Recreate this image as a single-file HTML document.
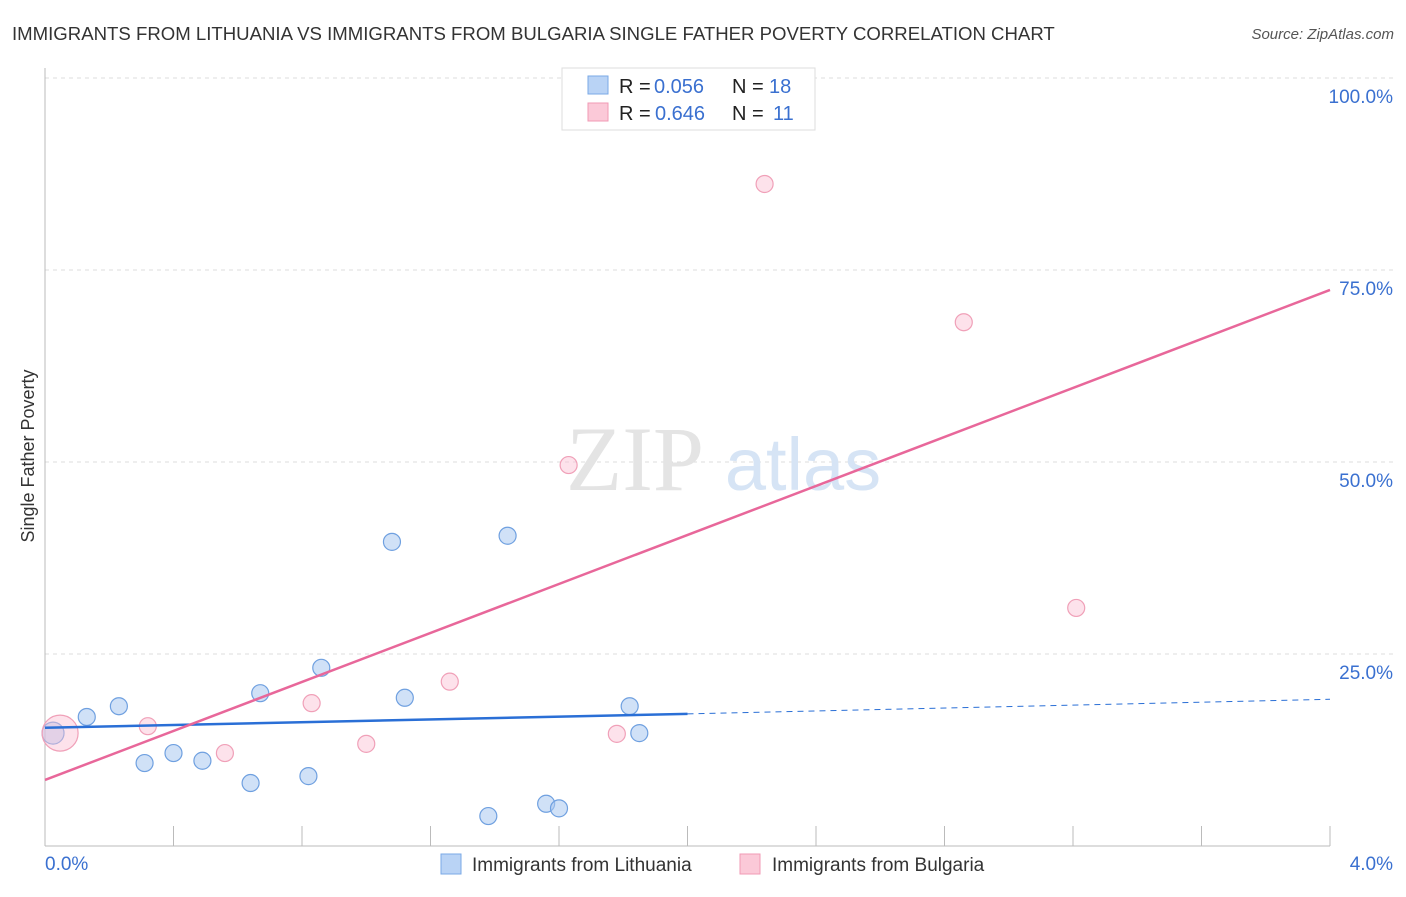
<!DOCTYPE html>
<html><head><meta charset="utf-8"><style>
body{margin:0;background:#fff;font-family:"Liberation Sans",sans-serif}
</style></head><body>
<svg width="1406" height="892" xmlns="http://www.w3.org/2000/svg" font-family="Liberation Sans, sans-serif">
<text x="12" y="40" font-size="18.6" fill="#333">IMMIGRANTS FROM LITHUANIA VS IMMIGRANTS FROM BULGARIA SINGLE FATHER POVERTY CORRELATION CHART</text>
<text x="1394" y="39" font-size="15" fill="#555" font-style="italic" text-anchor="end">Source: ZipAtlas.com</text>
<g id="grid"></g>
<text x="635" y="490" font-size="92" fill="#e4e4e4" font-family="Liberation Serif, serif" text-anchor="middle">ZIP</text>
<text x="803" y="490" font-size="74" fill="#d6e4f5" text-anchor="middle">atlas</text>
<text transform="translate(34,456) rotate(-90)" font-size="18" fill="#333" text-anchor="middle">Single Father Poverty</text>
<g id="axes"></g>
<g id="marks"></g>
<g>
<rect x="562" y="68" width="253" height="62" fill="#fff" stroke="#ddd"/>
<rect x="588" y="76" width="20" height="18" fill="#b9d3f5" stroke="#7aa8e6"/>
<rect x="588" y="103" width="20" height="18" fill="#fbc9d8" stroke="#f09ab5"/>
<text x="619" y="93" font-size="20" fill="#222">R =</text>
<text x="654" y="93" font-size="20" fill="#3a70d0">0.056</text>
<text x="732" y="93" font-size="20" fill="#222">N =</text>
<text x="769" y="93" font-size="20" fill="#3a70d0">18</text>
<text x="619" y="120" font-size="20" fill="#222">R =</text>
<text x="655" y="120" font-size="20" fill="#3a70d0">0.646</text>
<text x="732" y="120" font-size="20" fill="#222">N =</text>
<text x="773" y="120" font-size="20" fill="#3a70d0">11</text>
</g>
<g>
<rect x="441" y="854" width="20" height="20" fill="#b9d3f5" stroke="#7aa8e6"/>
<text x="472" y="871" font-size="19" fill="#333">Immigrants from Lithuania</text>
<rect x="740" y="854" width="20" height="20" fill="#fbc9d8" stroke="#f09ab5"/>
<text x="772" y="871" font-size="19" fill="#333">Immigrants from Bulgaria</text>
</g>
</svg>
<script>
const blueX=[0.025,0.13,0.23,0.31,0.40,0.49,0.64,0.67,0.82,0.86,1.08,1.12,1.38,1.44,1.56,1.60,1.82,1.85];
const blueY=[14.7,16.8,18.2,10.8,12.1,11.1,8.2,19.9,9.1,23.2,39.6,19.3,3.9,40.4,5.5,4.9,18.2,14.7];
const pinkX=[0.047,0.32,0.56,0.83,1.0,1.26,1.63,1.78,2.24,2.86,3.21];
const pinkY=[14.7,15.6,12.1,18.6,13.3,21.4,49.6,14.6,86.2,68.2,31.0];
const blueTrend=[[0,15.4],[2.0,17.2],[4,19.1]];
const pinkTrend=[[0,8.6],[4,72.4]];
const yTicks=[25,50,75,100];
const xTickLabels=["0.0%","4.0%"];
const NS="http://www.w3.org/2000/svg";
const X=v=>45+v/4*1285, Y=v=>846-v*7.68;
function mk(p,t,a){const e=document.createElementNS(NS,t);for(const k in a)e.setAttribute(k,a[k]);p.appendChild(e);return e;}
const grid=document.getElementById('grid'),axes=document.getElementById('axes'),marks=document.getElementById('marks');
yTicks.forEach(t=>{const l=mk(grid,'line',{x1:45,x2:1394,y1:Y(t),y2:Y(t),stroke:'#ddd','stroke-dasharray':'4,4'});


const tx=mk(axes,'text',{x:1393,y:Y(t)+25,'font-size':19,fill:'#3a70d0','text-anchor':'end'});tx.textContent=t.toFixed(1)+'%';

});
mk(axes,'line',{x1:45,x2:45,y1:68,y2:846,stroke:'#bbb'});
mk(axes,'line',{x1:45,x2:1330,y1:846,y2:846,stroke:'#bbb'});
for(let i=1;i<=10;i++){const x=X(i*0.4);mk(axes,'line',{x1:x,x2:x,y1:826,y2:846,stroke:'#bbb'});}
const t0=mk(axes,'text',{x:45,y:870,'font-size':19,fill:'#3a70d0'});t0.textContent=xTickLabels[0];

const t1=mk(axes,'text',{x:1393,y:870,'font-size':19,fill:'#3a70d0','text-anchor':'end'});t1.textContent=xTickLabels[1];

blueX.forEach((v,i)=>{const c=mk(marks,'circle',{cx:X(v),cy:Y(blueY[i]),r:i==0?11:8.5,fill:'rgba(170,200,240,0.55)',stroke:'#6fa0e0','stroke-width':1.2});

});
pinkX.forEach((v,i)=>{const c=mk(marks,'circle',{cx:X(v),cy:Y(pinkY[i]),r:i==0?18:8.5,fill:'rgba(250,190,210,0.45)',stroke:'#f0a0b8','stroke-width':1.2});

});
let l=mk(marks,'line',{x1:X(blueTrend[0][0]),y1:Y(blueTrend[0][1]),x2:X(blueTrend[1][0]),y2:Y(blueTrend[1][1]),stroke:'#2a6fd6','stroke-width':2.5});

l=mk(marks,'line',{x1:X(blueTrend[1][0]),y1:Y(blueTrend[1][1]),x2:X(blueTrend[2][0]),y2:Y(blueTrend[2][1]),stroke:'#2a6fd6','stroke-width':1,'stroke-dasharray':'6,5'});

l=mk(marks,'line',{x1:X(pinkTrend[0][0]),y1:Y(pinkTrend[0][1]),x2:X(pinkTrend[1][0]),y2:Y(pinkTrend[1][1]),stroke:'#e8679a','stroke-width':2.5});

</script>
</body></html>
